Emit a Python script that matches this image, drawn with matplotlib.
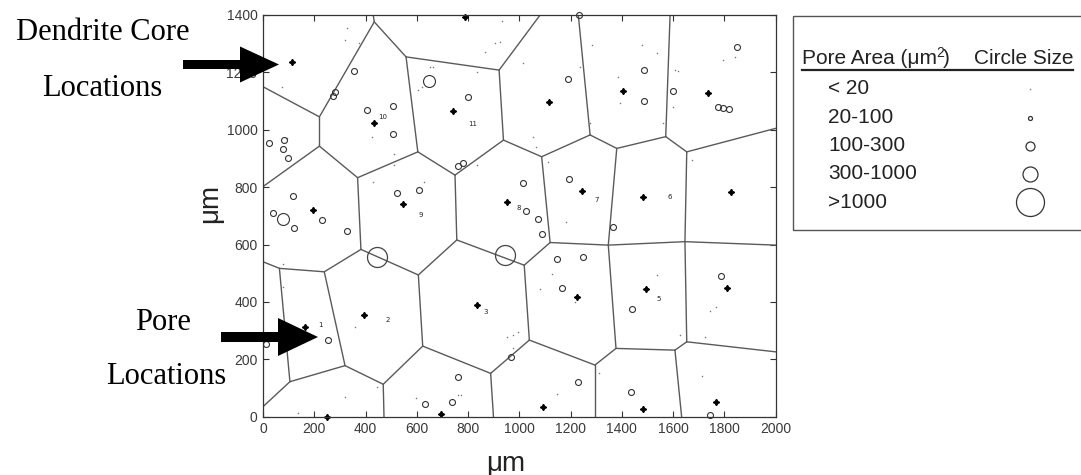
import matplotlib
matplotlib.use("Agg")
import matplotlib.pyplot as plt
from matplotlib.patches import Polygon, Rectangle
from matplotlib.lines import Line2D

W, H = 1081, 475

# voronoi vertices (um); border points included
vert_x = [434, 430, 220, 0, 220, 0, 369, 604, 558, 921, 1081, 938, 749, 1087, 756, 382,
          606, 239, 64, 0, 105, 0, 320, 469, 472, 623, 888, 899, 1039, 1019, 1120, 1347,
          1380, 1377, 1646, 1653, 2000, 1295, 1295, 1607, 1653, 1633, 2000, 1276, 1230,
          1571, 1588, 2000]
vert_y = [1376, 1400, 1045, 1150, 943, 802, 833, 923, 1254, 1208, 1400, 964, 842, 906, 616,
          583, 494, 505, 517, 540, 122, 35, 178, 113, 0, 246, 151, 0, 267, 528, 607, 598,
          935, 238, 610, 923, 598, 180, 0, 232, 261, 0, 226, 982, 1400, 976, 1400, 1005]
edges = [(0, 1), (0, 2), (0, 8), (2, 3), (2, 4), (4, 5), (4, 6), (6, 7), (7, 8), (8, 9),
         (9, 10), (9, 11), (7, 12), (12, 11), (11, 13), (12, 14), (6, 15), (15, 16),
         (15, 17), (17, 18), (18, 19), (18, 20), (20, 21), (20, 22), (17, 22), (22, 23),
         (23, 24), (23, 25), (25, 16), (25, 26), (26, 27), (26, 28), (16, 14), (14, 29),
         (29, 28), (29, 30), (30, 31), (31, 32), (31, 34), (34, 35), (34, 36), (28, 37),
         (37, 33), (37, 38), (31, 33), (33, 39), (39, 40), (39, 41), (40, 34), (40, 42),
         (13, 30), (13, 43), (43, 44), (43, 32), (32, 45), (45, 46), (45, 35), (35, 47)]

# dendrite cores
core_x = [112, 434, 743, 788, 196, 545, 953, 1117, 1406, 1737, 1246, 1484, 1826, 164, 395,
          834, 1224, 1493, 1809, 248, 693, 1094, 1484, 1767]
core_y = [1235, 1024, 1065, 1392, 720, 741, 747, 1098, 1136, 1127, 786, 765, 782, 312, 353,
          389, 418, 444, 447, 0, 8, 33, 28, 52]
lab_text = ["1", "2", "3", "5", "6", "7", "8", "9", "10", "11"]
lab_x = [196, 456, 840, 1514, 1559, 1273, 968, 586, 430, 781]
lab_y = [335, 353, 380, 424, 779, 769, 742, 717, 1061, 1036]

# pores, by size class
dot_x = [320, 329, 374, 73, 92, 424, 512, 511, 430, 629, 651, 665, 606, 619, 834, 866, 905,
         924, 931, 1015, 834, 1237, 1282, 1477, 1536, 1386, 1393, 1607, 1618, 1598, 1562,
         1793, 1841, 1054, 1065, 1276, 1113, 1182, 1672, 77, 359, 443, 320, 138, 597, 762,
         771, 976, 996, 951, 976, 79, 1126, 1081, 1536, 1627, 1744, 1767, 1711, 1148, 1311,
         1217, 1725]
dot_y = [1312, 1353, 1301, 1148, 972, 976, 914, 877, 819, 819, 1220, 1220, 1139, 1148, 1202,
         1272, 1301, 1307, 1380, 1232, 877, 1220, 1296, 1296, 1267, 1185, 1092, 1208, 1205,
         1078, 1025, 1243, 1255, 976, 941, 1023, 889, 680, 895, 532, 312, 105, 70, 12, 64,
         76, 76, 285, 296, 279, 238, 453, 496, 444, 494, 285, 369, 383, 142, 78, 151, 401,
         277]
small_x = [356, 275, 282, 405, 508, 508, 799, 25, 83, 77, 96, 762, 779, 118, 40, 122, 229,
           327, 522, 610, 1013, 1026, 1191, 1488, 1488, 1598, 1848, 1774, 1794, 1816, 1195,
           1074, 1087, 1367, 1233, 255, 12, 762, 736, 632, 968, 1148, 1250, 1168, 1438, 1786,
           1228, 1435, 1744]
small_y = [1206, 1118, 1131, 1069, 1083, 987, 1115, 955, 964, 933, 900, 875, 883, 770, 709,
           659, 685, 647, 778, 790, 815, 717, 1177, 1210, 1100, 1136, 1287, 1080, 1075, 1071,
           827, 688, 637, 662, 1400, 267, 253, 139, 50, 43, 209, 549, 555, 447, 374, 490, 122,
           87, 6]
med_x = [648, 79]
med_y = [1170, 688]
big_x = [444, 944]
big_y = [557, 563]

# legend table
leg_rows = ["< 20", "20-100", "100-300", "300-1000", ">1000"]
leg_px = [1.5, 4, 9, 15, 28]   # circle diameter in pixels

fig = plt.figure(figsize=(W / 100, H / 100), dpi=100)
fx = lambda x: x / W
fy = lambda y: 1 - y / H

ax = fig.add_axes([fx(263), fy(416.7), fx(775.7) - fx(263), fy(15) - fy(416.7)])
ax.set_xlim(0, 2000)
ax.set_ylim(0, 1400)

for a, b in edges:
    ax.plot([vert_x[a], vert_x[b]], [vert_y[a], vert_y[b]], color="#5a5a5a", lw=1.0,
            solid_capstyle="round")

ax.plot(dot_x, dot_y, ls="none", marker="o", ms=1.1, mfc="#777777", mec="none",
        clip_on=False)
ax.plot(small_x, small_y, ls="none", marker="o", ms=4.3, mfc="none", mec="#333333",
        mew=0.8, clip_on=False)
ax.plot(med_x, med_y, ls="none", marker="o", ms=8.6, mfc="none", mec="#333333", mew=0.8)
ax.plot(big_x, big_y, ls="none", marker="o", ms=14.4, mfc="none", mec="#444444", mew=0.9)
ax.plot(core_x, core_y, ls="none", marker=(4, 1, 0), ms=4.5, color="black", clip_on=False)
for t, x, y in zip(lab_text, lab_x, lab_y):
    ax.text(x + 20, y - 15, t, fontsize=5, ha="left", va="center", color="#222222")

ax.set_xticks(range(0, 2001, 200))
ax.set_yticks(range(0, 1401, 200))
ax.tick_params(direction="in", length=4, width=0.8, top=True, right=True,
               labelsize=10, labelcolor="#3a3a3a", color="#333333", pad=4)
for lbl in ax.get_xticklabels() + ax.get_yticklabels():
    lbl.set_family("Liberation Sans")
for s in ax.spines.values():
    s.set_color("#333333")
    s.set_linewidth(0.9)

fig.text(fx(506), fy(464), "\u03bcm", fontsize=20, family="Liberation Sans",
         ha="center", va="center", color="#222222")
fig.text(fx(210), fy(203), "\u03bcm", fontsize=20, family="Liberation Sans",
         ha="center", va="center", rotation=90, color="#222222")

# annotations on the left
serif = "Liberation Serif"
fig.text(fx(103), fy(33), "Dendrite Core", fontsize=22, family=serif, ha="center", va="center")
fig.text(fx(102), fy(88), "Locations", fontsize=22, family=serif, ha="center", va="center")
fig.text(fx(163), fy(323), "Pore", fontsize=22, family=serif, ha="center", va="center")
fig.text(fx(166), fy(377), "Locations", fontsize=22, family=serif, ha="center", va="center")


def arrow(x0, x1, x2, yc, sw, hw):
    pts = [(x0, yc - sw), (x1, yc - sw), (x1, yc - hw), (x2, yc), (x1, yc + hw),
           (x1, yc + sw), (x0, yc + sw)]
    fig.add_artist(Polygon([(fx(x), fy(y)) for x, y in pts], closed=True,
                           transform=fig.transFigure, color="black", lw=0))


arrow(183, 240, 279, 64.5, 4.5, 18)
arrow(221, 278, 318, 337, 5, 19)

# legend box
fig.add_artist(Rectangle((fx(793), fy(230)), 0.4, fy(15.7) - fy(230), transform=fig.transFigure,
                         fill=False, ec="#555555", lw=1.0, clip_on=False))
fig.text(fx(801.7), fy(58), "Pore Area (\u03bcm", fontsize=15, family="Liberation Sans",
         ha="left", va="center", color="#222222")
fig.text(fx(936), fy(53), "2", fontsize=10, family="Liberation Sans",
         ha="left", va="center", color="#222222")
fig.text(fx(943), fy(58), ")", fontsize=15, family="Liberation Sans",
         ha="left", va="center", color="#222222")
fig.text(fx(1073.3), fy(58), "Circle Size", fontsize=15, family="Liberation Sans",
         ha="right", va="center", color="#222222")
fig.add_artist(Line2D([fx(801.7), fx(1073.3)], [fy(70), fy(70)], transform=fig.transFigure,
                      color="#222222", lw=1.6))
row_y = [89, 117.5, 146, 174, 202]
for txt, d, yy in zip(leg_rows, leg_px, row_y):
    fig.text(fx(828.3), fy(yy), txt, fontsize=15, family="Liberation Sans", ha="left",
             va="center", color="#222222")
    if d < 2:
        fig.add_artist(Line2D([fx(1029.5)], [fy(yy)], transform=fig.transFigure, ls="none",
                              marker="o", ms=1.2, mfc="#888888", mec="none"))
    else:
        fig.add_artist(Line2D([fx(1029.5)], [fy(yy)], transform=fig.transFigure, ls="none",
                              marker="o", ms=d * 0.72, mfc="none", mec="#333333", mew=0.9))

fig.savefig("out.png", dpi=100)
